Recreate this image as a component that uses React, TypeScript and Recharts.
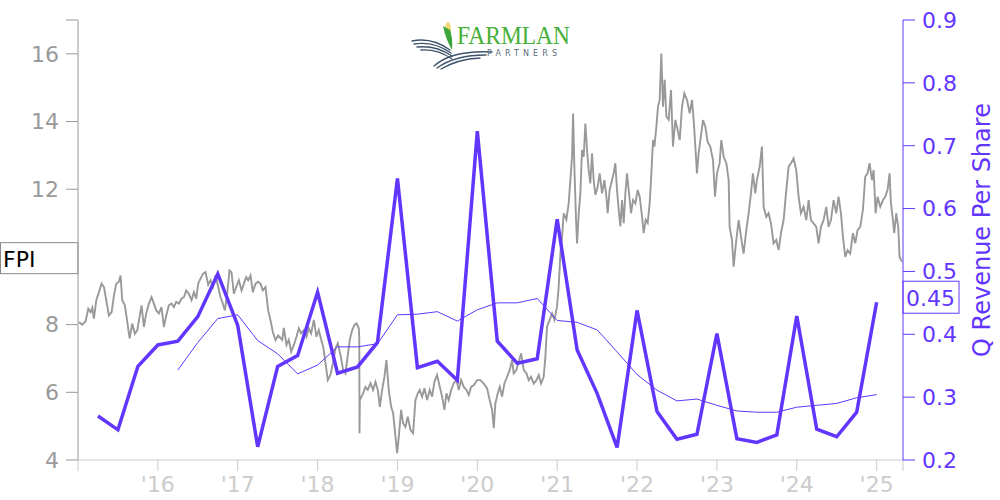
import React from "react";
import { ComposedChart, Line, XAxis, YAxis, ReferenceLine } from "recharts";

const PURPLE = "#6236ff";
const GRAY = "#999999";

// FPI share price [decimal year, price]
const fpiPrice: [number, number][] = [
  [2015.012, 8.08], [2015.053, 8.0], [2015.095, 8.1], [2015.129, 8.47], [2015.158, 8.37], [2015.179, 8.5],
  [2015.199, 8.18], [2015.229, 8.72], [2015.262, 8.96], [2015.295, 9.21], [2015.325, 9.11], [2015.354, 8.72],
  [2015.387, 8.27], [2015.421, 8.37], [2015.45, 8.86], [2015.479, 9.21], [2015.512, 9.27], [2015.533, 9.45],
  [2015.554, 8.72], [2015.587, 8.57], [2015.617, 8.08], [2015.646, 7.59], [2015.679, 8.03], [2015.712, 7.73],
  [2015.742, 7.83], [2015.771, 8.23], [2015.796, 8.57], [2015.825, 7.93], [2015.854, 8.33], [2015.888, 8.62],
  [2015.921, 8.81], [2015.95, 8.62], [2015.98, 8.42], [2016.013, 8.33], [2016.046, 8.52], [2016.075, 7.93],
  [2016.105, 8.27], [2016.138, 8.57], [2016.171, 8.62], [2016.201, 8.52], [2016.23, 8.67], [2016.263, 8.62],
  [2016.297, 8.77], [2016.326, 8.81], [2016.355, 9.01], [2016.388, 8.91], [2016.422, 8.72], [2016.451, 8.96],
  [2016.48, 8.77], [2016.505, 9.21], [2016.534, 9.36], [2016.564, 9.5], [2016.597, 9.55], [2016.63, 9.18],
  [2016.66, 9.31], [2016.689, 9.11], [2016.722, 9.45], [2016.756, 9.11], [2016.785, 8.81], [2016.814, 8.62],
  [2016.839, 8.42], [2016.868, 8.91], [2016.897, 9.6], [2016.922, 9.55], [2016.952, 8.91], [2016.981, 9.11],
  [2017.014, 9.31], [2017.048, 9.01], [2017.077, 9.21], [2017.106, 9.4], [2017.131, 9.31], [2017.16, 9.45],
  [2017.189, 8.96], [2017.223, 9.21], [2017.256, 9.27], [2017.285, 9.21], [2017.314, 9.01], [2017.348, 9.11],
  [2017.381, 8.42], [2017.41, 8.13], [2017.44, 7.78], [2017.473, 7.54], [2017.506, 7.68], [2017.557, 7.55],
  [2017.577, 7.9], [2017.611, 7.4], [2017.64, 7.55], [2017.669, 7.2], [2017.703, 7.4], [2017.736, 7.64],
  [2017.765, 7.89], [2017.794, 7.74], [2017.828, 7.84], [2017.861, 7.64], [2017.89, 7.89], [2017.919, 7.74],
  [2017.953, 8.14], [2017.986, 7.64], [2018.015, 7.84], [2018.045, 7.55], [2018.07, 7.35], [2018.099, 6.86],
  [2018.128, 6.36], [2018.161, 6.51], [2018.195, 6.9], [2018.224, 7.3], [2018.253, 7.45], [2018.287, 7.1],
  [2018.32, 6.66], [2018.349, 6.56], [2018.37, 6.95], [2018.403, 7.55], [2018.433, 7.84], [2018.462, 7.99],
  [2018.487, 8.04], [2018.516, 7.89], [2018.522, 7.6], [2018.525, 4.79], [2018.529, 5.77], [2018.57, 5.97],
  [2018.599, 6.16], [2018.628, 6.07], [2018.662, 6.27], [2018.695, 6.07], [2018.725, 6.31], [2018.754, 6.07],
  [2018.779, 5.57], [2018.808, 6.07], [2018.837, 6.46], [2018.862, 6.95], [2018.891, 6.07], [2018.921, 5.57],
  [2018.946, 5.38], [2018.975, 4.69], [2018.996, 4.2], [2019.017, 4.69], [2019.046, 5.48], [2019.071, 5.08],
  [2019.1, 4.98], [2019.129, 5.28], [2019.163, 4.89], [2019.196, 4.79], [2019.225, 5.77], [2019.254, 5.97],
  [2019.279, 6.07], [2019.309, 5.87], [2019.338, 6.12], [2019.371, 5.77], [2019.405, 6.07], [2019.434, 5.87],
  [2019.463, 6.31], [2019.496, 6.51], [2019.53, 6.16], [2019.559, 5.87], [2019.588, 5.48], [2019.613, 5.97],
  [2019.642, 5.77], [2019.672, 6.07], [2019.705, 6.27], [2019.738, 6.36], [2019.768, 6.07], [2019.797, 6.36],
  [2019.83, 6.16], [2019.864, 6.07], [2019.893, 5.92], [2019.922, 6.16], [2019.955, 6.21], [2019.997, 6.36],
  [2020.039, 6.36], [2020.08, 6.26], [2020.122, 6.12], [2020.155, 5.77], [2020.185, 5.48], [2020.206, 4.94],
  [2020.226, 5.67], [2020.256, 5.97], [2020.281, 6.16], [2020.31, 5.87], [2020.339, 6.26], [2020.373, 6.46],
  [2020.406, 6.66], [2020.435, 6.95], [2020.456, 6.56], [2020.489, 6.66], [2020.519, 6.9], [2020.548, 7.15],
  [2020.581, 6.66], [2020.615, 6.56], [2020.644, 6.36], [2020.673, 6.46], [2020.706, 6.26], [2020.74, 6.36],
  [2020.769, 6.51], [2020.798, 6.26], [2020.831, 6.46], [2020.852, 7.05], [2020.873, 7.94], [2020.906, 8.14],
  [2020.936, 8.33], [2020.965, 8.14], [2020.998, 8.53], [2021.019, 9.12], [2021.04, 10.1], [2021.061, 10.6],
  [2021.082, 11.29], [2021.115, 11.1], [2021.144, 11.58], [2021.165, 12.27], [2021.186, 12.96], [2021.199, 14.24],
  [2021.215, 12.67], [2021.236, 11.1], [2021.249, 10.4], [2021.27, 11.29], [2021.29, 11.88], [2021.311, 13.16],
  [2021.332, 12.96], [2021.353, 13.94], [2021.374, 13.16], [2021.394, 12.57], [2021.415, 12.17], [2021.436, 13.06],
  [2021.457, 12.27], [2021.478, 11.83], [2021.507, 12.07], [2021.532, 12.47], [2021.562, 11.88], [2021.591, 12.27],
  [2021.616, 11.78], [2021.632, 11.29], [2021.657, 11.98], [2021.687, 12.27], [2021.707, 12.47], [2021.728, 12.77],
  [2021.749, 11.98], [2021.77, 11.39], [2021.791, 10.9], [2021.812, 11.68], [2021.833, 11.0], [2021.854, 11.88],
  [2021.874, 12.47], [2021.895, 11.98], [2021.925, 11.29], [2021.95, 11.68], [2021.979, 11.58], [2022.008, 11.98],
  [2022.033, 11.78], [2022.058, 11.29], [2022.083, 10.7], [2022.108, 11.1], [2022.133, 11.0], [2022.158, 11.58],
  [2022.179, 12.47], [2022.2, 13.45], [2022.217, 13.26], [2022.242, 13.85], [2022.262, 14.44], [2022.283, 14.64],
  [2022.304, 16.01], [2022.325, 14.44], [2022.346, 15.23], [2022.367, 14.15], [2022.396, 14.05], [2022.425, 14.93],
  [2022.45, 13.26], [2022.479, 14.05], [2022.508, 13.75], [2022.534, 13.45], [2022.563, 14.44], [2022.592, 14.83],
  [2022.625, 14.64], [2022.659, 14.24], [2022.688, 14.64], [2022.709, 14.05], [2022.73, 13.26], [2022.75, 12.47],
  [2022.771, 13.06], [2022.826, 14.04], [2022.855, 13.85], [2022.884, 13.4], [2022.917, 13.26], [2022.951, 12.86],
  [2022.976, 11.78], [2023.001, 12.47], [2023.034, 12.77], [2023.055, 13.45], [2023.084, 12.96], [2023.118, 12.77],
  [2023.147, 12.27], [2023.159, 10.89], [2023.189, 10.5], [2023.209, 9.71], [2023.243, 10.5], [2023.272, 11.09],
  [2023.301, 10.6], [2023.334, 10.1], [2023.368, 10.79], [2023.397, 11.29], [2023.426, 11.88], [2023.451, 12.47],
  [2023.48, 11.88], [2023.501, 12.27], [2023.535, 12.67], [2023.564, 13.26], [2023.585, 11.48], [2023.618, 11.18],
  [2023.647, 11.29], [2023.677, 10.99], [2023.71, 10.4], [2023.743, 10.5], [2023.773, 10.2], [2023.802, 10.7],
  [2023.835, 11.09], [2023.869, 11.98], [2023.898, 12.67], [2023.927, 12.77], [2023.96, 12.91], [2023.993, 12.57],
  [2024.023, 11.78], [2024.052, 11.29], [2024.085, 11.48], [2024.119, 11.09], [2024.148, 11.68], [2024.177, 11.09],
  [2024.211, 10.99], [2024.244, 10.89], [2024.273, 10.4], [2024.302, 10.89], [2024.336, 11.09], [2024.369, 11.48],
  [2024.398, 10.89], [2024.428, 11.09], [2024.461, 11.68], [2024.494, 11.29], [2024.523, 11.78], [2024.553, 11.29],
  [2024.578, 10.6], [2024.607, 10.0], [2024.636, 10.2], [2024.669, 10.1], [2024.703, 10.7], [2024.732, 10.4],
  [2024.761, 10.79], [2024.795, 10.89], [2024.828, 11.39], [2024.857, 12.37], [2024.886, 12.47], [2024.911, 12.77],
  [2024.941, 12.27], [2024.962, 12.57], [2024.987, 11.29], [2025.012, 11.78], [2025.045, 11.48], [2025.079, 11.68],
  [2025.108, 11.78], [2025.137, 11.98], [2025.162, 12.47], [2025.179, 11.58], [2025.204, 11.09], [2025.22, 10.7],
  [2025.245, 11.29], [2025.27, 10.89], [2025.287, 10.0], [2025.316, 9.86],
];

// quarterly revenue per share
const quarters = [
  2015.25, 2015.5, 2015.75, 2016, 2016.25, 2016.5, 2016.75, 2017, 2017.25, 2017.5,
  2017.75, 2018, 2018.25, 2018.5, 2018.75, 2019, 2019.25, 2019.5, 2019.75, 2020,
  2020.25, 2020.5, 2020.75, 2021, 2021.25, 2021.5, 2021.75, 2022, 2022.25, 2022.5,
  2022.75, 2023, 2023.25, 2023.5, 2023.75, 2024, 2024.25, 2024.5, 2024.75, 2025,
];
const revPerShare = [
  0.27, 0.248, 0.349, 0.383, 0.389, 0.428, 0.496, 0.414, 0.221, 0.349,
  0.366, 0.467, 0.338, 0.348, 0.387, 0.648, 0.347, 0.357, 0.327, 0.723,
  0.389, 0.354, 0.361, 0.583, 0.375, 0.306, 0.22, 0.438, 0.277, 0.233,
  0.241, 0.401, 0.234, 0.228, 0.24, 0.429, 0.249, 0.237, 0.276, 0.451,
];
// trailing 4-quarter average (starts one year in)
const revAvg = [
  null, null, null, null, 0.343, 0.387, 0.425, 0.431, 0.39, 0.369,
  0.337, 0.351, 0.38, 0.38, 0.385, 0.431, 0.432, 0.436, 0.421, 0.439,
  0.45, 0.45, 0.457, 0.422, 0.419, 0.407, 0.372, 0.336, 0.311, 0.294,
  0.297, 0.287, 0.278, 0.276, 0.276, 0.284, 0.287, 0.29, 0.299, 0.304,
];

const xTicks = [2015, 2016, 2017, 2018, 2019, 2020, 2021, 2022, 2023, 2024, 2025, 2025.33];
const priceTicks = [4, 6, 8, 12, 14, 16, 17];
const revTicks = [0.2, 0.3, 0.4, 0.5, 0.6, 0.7, 0.8, 0.9];

const priceData = fpiPrice.map(([t, v]) => ({ t, v }));
const revData = quarters.map((t, i) => ({ t, v: revPerShare[i] }));
const avgData = quarters
  .map((t, i) => ({ t, v: revAvg[i] }))
  .filter((d) => d.v !== null);

const lastPrice = fpiPrice[fpiPrice.length - 1][1];
const lastRev = revPerShare[revPerShare.length - 1];

const yearLabel = (v: number) =>
  Number.isInteger(v) && v > 2015 ? "'" + String(v).slice(2) : "";

const FpiBox = (props: any) => {
  const y = props.viewBox.y;
  return (
    <g>
      <rect x={0.5} y={y - 19} width={77.5} height={31} fill="#fff" stroke="#888" />
      <text x={3} y={y + 5} fontSize={22} fill="#000">FPI</text>
    </g>
  );
};

const RevBox = (props: any) => {
  const { x, y, width } = props.viewBox;
  const left = x + width;
  return (
    <g>
      <rect x={left} y={y - 21} width={56} height={32} fill="#fff" stroke={PURPLE} />
      <text x={left + 3} y={y + 4} fontSize={22} fill={PURPLE}>
        {lastRev.toFixed(2)}
      </text>
    </g>
  );
};

const Logo = () => (
  <svg
    width={1000}
    height={500}
    style={{ position: "absolute", left: 0, top: 0, pointerEvents: "none" }}
  >
    <g fill="none" stroke="#3e546c" strokeWidth={1.4} strokeLinecap="round">
      <path d="M412 41 Q432 37 450 50" />
      <path d="M414 44 Q434 41 451 53" />
      <path d="M417 47 Q436 45 452 56" />
      <path d="M421 50 Q438 49 452 59" />
      <path d="M434 66 Q452 50 492 52" />
      <path d="M437 68 Q455 55 486 55" />
      <path d="M441 69 Q458 59 480 58" />
    </g>
    <ellipse cx={448} cy={30} rx={3} ry={8} fill="#f0d877" />
    <path d="M443 26 Q446 40 452 50 Q453 38 450 30 Z" fill="#3aa63a" />
    <text
      x={457}
      y={44}
      fontSize={25}
      fontFamily="'Liberation Serif', serif"
      fill="#46b038"
      textLength={113}
      lengthAdjust="spacingAndGlyphs"
    >
      FARMLAN
    </text>
    <text
      x={487}
      y={56}
      fontSize={8}
      fontFamily="'DejaVu Sans', sans-serif"
      fill="#5b6b7c"
      textLength={70}
      lengthAdjust="spacing"
    >
      PARTNERS
    </text>
    <text
      x={990}
      y={230}
      transform="rotate(-90 990 230)"
      textAnchor="middle"
      fontSize={24}
      fill={PURPLE}
    >
      Q Revenue Per Share
    </text>
  </svg>
);

export default function App() {
  return (
    <div
      style={{
        position: "absolute",
        left: 0,
        top: 0,
        width: 1000,
        height: 500,
        background: "#fff",
        fontFamily: "'DejaVu Sans', sans-serif",
      }}
    >
      <ComposedChart width={1000} height={500} margin={{ top: 20, right: 0, bottom: 0, left: 0 }}>
        <XAxis
          dataKey="t"
          type="number"
          scale="linear"
          domain={[2015, 2025.33]}
          allowDataOverflow
          ticks={xTicks}
          interval={0}
          tickFormatter={yearLabel}
          stroke="#cccccc"
          tick={{ fill: "#cccccc", fontSize: 22 }}
          tickSize={11}
          tickMargin={5}
          height={40}
        />
        <YAxis
          yAxisId="price"
          domain={[4, 17]}
          allowDataOverflow
          ticks={priceTicks}
          interval={0}
          tickFormatter={(v: number) => (v === 17 ? "" : String(v))}
          stroke={GRAY}
          tick={{ fill: GRAY, fontSize: 22 }}
          tickSize={12}
          tickMargin={7}
          width={78}
        />
        <YAxis
          yAxisId="rev"
          orientation="right"
          domain={[0.2, 0.9]}
          allowDataOverflow
          ticks={revTicks}
          interval={0}
          tickFormatter={(v: number) => v.toFixed(1)}
          stroke={PURPLE}
          tick={{ fill: PURPLE, fontSize: 22 }}
          tickSize={12}
          tickMargin={7}
          width={97}
        />
        <Line
          yAxisId="price"
          data={priceData}
          dataKey="v"
          type="linear"
          stroke={GRAY}
          strokeWidth={1.9}
          dot={false}
          activeDot={false}
          isAnimationActive={false}
        />
        <Line
          yAxisId="rev"
          data={avgData}
          dataKey="v"
          type="linear"
          stroke={PURPLE}
          strokeWidth={1}
          dot={false}
          activeDot={false}
          isAnimationActive={false}
        />
        <Line
          yAxisId="rev"
          data={revData}
          dataKey="v"
          type="linear"
          stroke={PURPLE}
          strokeWidth={3.5}
          dot={false}
          activeDot={false}
          isAnimationActive={false}
        />
        <ReferenceLine yAxisId="price" y={lastPrice} stroke="none" label={FpiBox} />
        <ReferenceLine yAxisId="rev" y={lastRev} stroke="none" label={RevBox} />
      </ComposedChart>
      <Logo />
    </div>
  );
}
